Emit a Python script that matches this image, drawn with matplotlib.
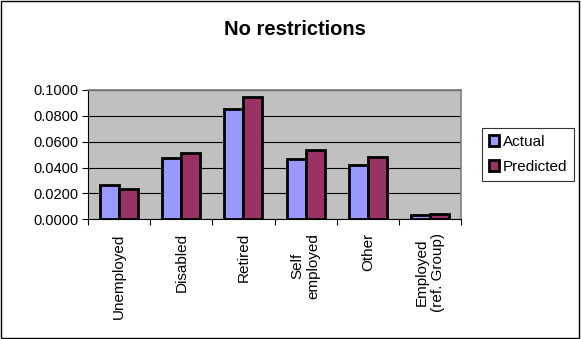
import numpy as np
import matplotlib.pyplot as plt
from matplotlib.patches import Rectangle

plt.rcParams['font.family'] = ['Liberation Sans', 'DejaVu Sans']

categories = ["Unemployed", "Disabled", "Retired", "Self\nemployed", "Other", "Employed\n(ref. Group)"]
actual = [0.0263, 0.0474, 0.0853, 0.0469, 0.0420, 0.0033]
predicted = [0.0232, 0.0513, 0.0944, 0.0538, 0.0482, 0.0039]
yticks = [0.0, 0.02, 0.04, 0.06, 0.08, 0.10]

fig = plt.figure(figsize=(5.81, 3.39), dpi=100)
fig.patches.append(Rectangle((0.002, 0.004), 0.995, 0.992, transform=fig.transFigure,
                             fill=False, edgecolor='black', linewidth=1))

ax = fig.add_axes([0.1515, 0.353, 0.642, 0.382])
ax.set_facecolor('#C0C0C0')

x = np.arange(len(categories))
w = 0.305
ax.bar(x - w / 2, actual, w, color='#9999FF', edgecolor='black', linewidth=2.0, label='Actual', zorder=3)
ax.bar(x + w / 2, predicted, w, color='#993366', edgecolor='black', linewidth=2.0, label='Predicted', zorder=3)

ax.set_xlim(-0.5, len(categories) - 0.5)
ax.set_ylim(0, 0.1)
ax.set_yticks(yticks)
ax.set_yticklabels(['%.4f' % v for v in yticks], fontsize=10.5)
ax.yaxis.grid(True, color='black', linewidth=0.8, zorder=0)
ax.set_axisbelow(True)

ax.set_xticks(np.arange(len(categories) + 1) - 0.5)
ax.set_xticklabels([])
ax.tick_params(axis='both', direction='out', length=4, width=0.8, color='black', pad=3)
for i, c in enumerate(categories):
    ax.annotate(c, xy=(i, 0), xycoords='data', xytext=(0, -10), textcoords='offset points',
                rotation=90, ha='center', va='top', multialignment='center', fontsize=11)

for s in ['top', 'right']:
    ax.spines[s].set_color('#808080')
    ax.spines[s].set_linewidth(1.2)
ax.spines['left'].set_color('black')
ax.spines['bottom'].set_color('black')

fig.text(0.508, 0.912, 'No restrictions', ha='center', va='center', fontsize=14.5, fontweight='bold')

leg = fig.legend(loc='upper left', bbox_to_anchor=(0.829, 0.622), fontsize=11,
                 frameon=True, fancybox=False, edgecolor='black', handlelength=0.7,
                 handleheight=0.7, handletextpad=0.25, borderpad=0.45, labelspacing=0.7,
                 borderaxespad=0)
leg.get_frame().set_linewidth(0.8)

fig.savefig('out.png', dpi=100)
